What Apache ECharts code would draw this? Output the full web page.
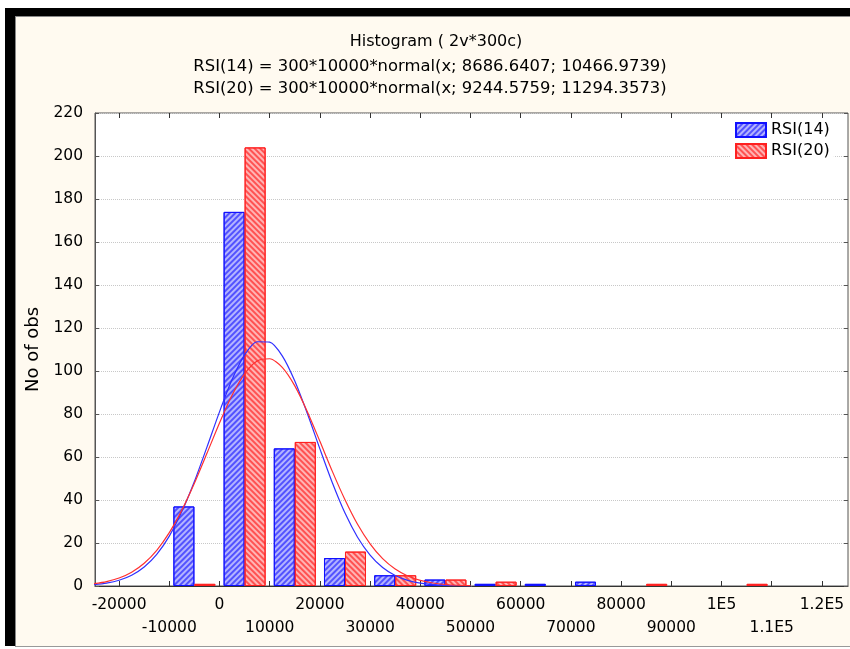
<!DOCTYPE html>
<html><head><meta charset="utf-8">
<script src="https://cdn.jsdelivr.net/npm/echarts@6/dist/echarts.min.js"></script>
<style>
html,body{margin:0;padding:0;background:#fff;}
#frame{position:absolute;left:5px;top:8px;width:845px;height:638px;background:#000;}
#inner{position:absolute;left:15px;top:16px;width:835px;height:631px;background:#fffaf0;border-top:1px solid #888;border-left:1px solid #888;border-bottom:1px solid #999;box-sizing:border-box;}
#chart{position:absolute;left:0;top:0;width:850px;height:649px;}
</style></head><body>
<div id="frame"></div><div id="inner"></div><div id="chart"></div>
<script>
// Histogram bin centres and counts
const binCenters = [-5000, 5000, 15000, 25000, 35000, 45000, 55000, 65000, 75000, 85000, 95000, 105000];
const countsRSI14 = [37, 174, 64, 13, 5, 3, 1, 1, 2, 0, 0, 0];
const countsRSI20 = [1, 204, 67, 16, 5, 3, 2, 0, 0, 1, 0, 1];

// Fitted normal curves
const fitX = [-25000, -22500, -20000, -17500, -15000, -12500, -10000, -7500, -5000, -2500, 0, 2500, 5000, 7500, 10000, 12500, 15000, 17500, 20000, 22500, 25000, 27500, 30000, 32500, 35000, 37500, 40000, 42500, 45000, 47500, 50000];
const fitRSI14 = [0.64, 1.35, 2.67, 5.00, 8.83, 14.7, 23.2, 34.6, 48.6, 64.6, 81.0, 96.0, 107.5, 113.6, 113.4, 107.0, 95.3, 80.2, 63.8, 47.9, 33.9, 22.7, 14.4, 8.59, 4.85, 2.59, 1.30, 0.62, 0.28, 0.12, 0.05];
const fitRSI20 = [1.07, 2.04, 3.71, 6.42, 10.6, 16.6, 24.8, 35.3, 47.8, 61.7, 75.8, 88.7, 98.7, 104.7, 105.7, 101.7, 93.1, 81.1, 67.3, 53.2, 40.1, 28.7, 19.6, 12.7, 7.87, 4.64, 2.60, 1.39, 0.71, 0.34, 0.16];

// Axis ticks
const xTicks = [-20000, -10000, 0, 10000, 20000, 30000, 40000, 50000, 60000, 70000, 80000, 90000, 100000, 110000, 120000];
const xTickLabels = ['-20000', '-10000', '0', '10000', '20000', '30000', '40000', '50000', '60000', '70000', '80000', '90000', '1E5', '1.1E5', '1.2E5'];

const titleLines = ['Histogram ( 2v*300c)',
  'RSI(14) = 300*10000*normal(x; 8686.6407; 10466.9739)',
  'RSI(20) = 300*10000*normal(x; 9244.5759; 11294.3573)'];
const seriesNames = ['RSI(14)', 'RSI(20)'];

const FONT = '"DejaVu Sans", sans-serif';
const chart = echarts.init(document.getElementById('chart'));

function barData(counts) {
  return binCenters.map((c, i) => [c, counts[i]]).filter(d => d[1] > 0);
}
const evenTicks = xTicks.filter((v, i) => i % 2 === 0);
const oddTicks = xTicks.filter((v, i) => i % 2 === 1);
function tickLabel(v) {
  const i = xTicks.indexOf(v);
  return i >= 0 ? xTickLabels[i] : '';
}
const X_MIN = -24800, X_MAX = 125200;

const option = {
  backgroundColor: 'transparent',
  animation: false,
  graphic: [
    {type: 'text', x: 436, y: 42, style: {text: titleLines[0], fontFamily: FONT, fontSize: 16, fill: '#000', align: 'center', verticalAlign: 'middle'}},
    {type: 'text', x: 430, y: 67, style: {text: titleLines[1], fontFamily: FONT, fontSize: 16.4, fill: '#000', align: 'center', verticalAlign: 'middle'}},
    {type: 'text', x: 430, y: 89, style: {text: titleLines[2], fontFamily: FONT, fontSize: 16.4, fill: '#000', align: 'center', verticalAlign: 'middle'}}
  ],
  grid: {left: 95, right: 2, top: 113, bottom: 63, show: true, backgroundColor: '#fff', borderColor: '#555', borderWidth: 1},
  legend: {
    data: seriesNames, orient: 'vertical', left: 730, top: 118,
    itemWidth: 30, itemHeight: 14, itemGap: 5, icon: 'rect',
    backgroundColor: '#fff', padding: [4, 4, 4, 5],
    textStyle: {fontFamily: FONT, fontSize: 16, color: '#000'}
  },
  xAxis: [{
    type: 'value', min: X_MIN, max: X_MAX, position: 'bottom',
    axisLine: {show: true, onZero: false, lineStyle: {color: '#333', width: 1}},
    axisTick: {show: true, inside: true, length: 5, customValues: xTicks, lineStyle: {color: '#333'}},
    axisLabel: {
      customValues: evenTicks, fontFamily: FONT, fontSize: 15.5, color: '#000', lineHeight: 23, margin: 7,
      showMinLabel: true, showMaxLabel: true, hideOverlap: false, formatter: tickLabel
    },
    splitLine: {show: false}
  }, {
    type: 'value', min: X_MIN, max: X_MAX, position: 'top',
    axisLine: {show: false, onZero: false},
    axisTick: {show: true, inside: true, length: 5, customValues: xTicks, lineStyle: {color: '#333'}},
    axisLabel: {show: false}, splitLine: {show: false}
  }, {
    type: 'value', min: X_MIN, max: X_MAX, position: 'bottom',
    axisLine: {show: false, onZero: false},
    axisTick: {show: false},
    axisLabel: {
      customValues: oddTicks, fontFamily: FONT, fontSize: 15.5, color: '#000', lineHeight: 23, margin: 30,
      showMinLabel: true, showMaxLabel: true, hideOverlap: false, formatter: tickLabel
    },
    splitLine: {show: false}
  }],
  yAxis: [{
    type: 'value', min: 0, max: 220, interval: 20,
    name: 'No of obs', nameLocation: 'middle', nameGap: 52, nameRotate: 90,
    nameTextStyle: {fontFamily: FONT, fontSize: 18, color: '#000'},
    axisLine: {show: true, onZero: false, lineStyle: {color: '#555'}},
    axisTick: {show: true, inside: true, length: 4, lineStyle: {color: '#555'}},
    axisLabel: {margin: 12, fontFamily: FONT, fontSize: 15.5, color: '#000'},
    splitLine: {show: true, lineStyle: {type: 'dotted', color: '#c8c8c8', width: 1}}
  }, {
    type: 'value', min: 0, max: 220, interval: 20, position: 'right',
    axisLine: {show: false, onZero: false},
    axisTick: {show: true, inside: true, length: 4, lineStyle: {color: '#555'}},
    axisLabel: {show: false}, splitLine: {show: false}
  }],
  series: [{
    name: seriesNames[0], type: 'bar', data: barData(countsRSI14), barWidth: 21, barGap: '0%',
    itemStyle: {
      color: '#b4b4ff', borderColor: '#1010ff', borderWidth: 1,
      decal: {symbol: 'rect', symbolSize: 1, dashArrayX: [1, 0], dashArrayY: [2, 2], rotation: -Math.PI / 4, color: 'rgba(40,40,255,0.7)'}
    }
  }, {
    name: seriesNames[1], type: 'bar', data: barData(countsRSI20), barWidth: 21, barGap: '0%',
    itemStyle: {
      color: '#ffb4b4', borderColor: '#ff2020', borderWidth: 1,
      decal: {symbol: 'rect', symbolSize: 1, dashArrayX: [1, 0], dashArrayY: [2, 2], rotation: Math.PI / 4, color: 'rgba(255,40,40,0.7)'}
    }
  }, {
    name: 'fit RSI(14)', type: 'line', data: fitX.map((x, i) => [x, fitRSI14[i]]),
    showSymbol: false, smooth: 0.25, silent: true, z: 5,
    lineStyle: {color: '#3030ff', width: 1.2}
  }, {
    name: 'fit RSI(20)', type: 'line', data: fitX.map((x, i) => [x, fitRSI20[i]]),
    showSymbol: false, smooth: 0.25, silent: true, z: 6,
    lineStyle: {color: '#ff3030', width: 1.2}
  }]
};
chart.setOption(option);
</script>
</body></html>
